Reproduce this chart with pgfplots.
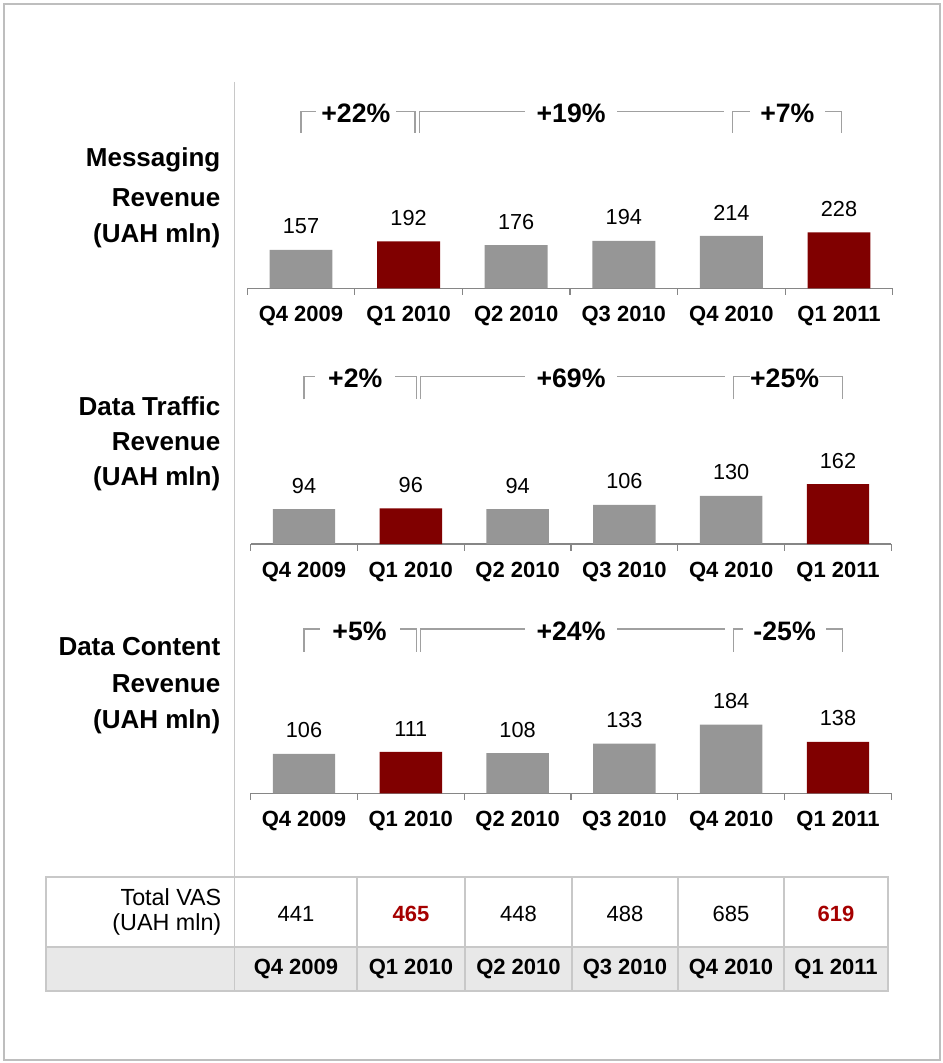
\documentclass[border=0pt]{standalone}
\usepackage{pgfplots}
\pgfplotsset{compat=1.18}
\usepackage{fontspec}
\setmainfont{Liberation Sans}
\definecolor{bargray}{RGB}{150,150,150}
\definecolor{barred}{RGB}{128,0,0}
\definecolor{txtred}{RGB}{165,0,0}
\definecolor{axisgray}{RGB}{134,134,134}
\definecolor{brkgray}{RGB}{160,160,160}
\definecolor{linegray}{RGB}{200,200,200}
\definecolor{framegray}{RGB}{190,190,190}
\definecolor{bandgray}{RGB}{232,232,232}

\newcommand{\valfont}{\fontsize{16.3}{19}\selectfont}
\newcommand{\tabfont}{\fontsize{16.5}{19}\selectfont}
\newcommand{\hdrfont}{\fontsize{17.5}{20}\selectfont}
\newcommand{\catfont}{\bfseries\fontsize{16.5}{19}\selectfont}
\newcommand{\brkfont}{\bfseries\fontsize{20}{23}\selectfont}
\newcommand{\ttlfont}{\bfseries\fontsize{19.5}{23}\selectfont}

\tikzset{
  brk/.style={draw=brkgray, line width=0.9pt},
  blab/.style={font=\brkfont, fill=white, inner sep=0pt, minimum height=20pt, yshift=-1.5pt},
  graybar/.style={draw=none, fill=bargray},
  redbar/.style={draw=none, fill=barred},
}
\pgfplotsset{
  panel/.style={
    scale only axis, anchor=south west,
    xmin=-0.5, xmax=5.5, ymin=0, ymax=200,
    axis y line=none, axis x line*=bottom,
    x axis line style={draw=axisgray, line width=1.2pt},
    xtick={0,...,5},
    xticklabels={Q4 2009,Q1 2010,Q2 2010,Q3 2010,Q4 2010,Q1 2011},
    major tick length=0pt,
    minor xtick={-0.5,0.5,1.5,2.5,3.5,4.5,5.5},
    minor tick length=5pt, tick align=outside,
    minor tick style={draw=axisgray, line width=1pt},
    xticklabel style={font=\catfont, anchor=center, yshift=-21pt},
    ybar, bar width=0.585, bar shift=0pt,
    clip=false,
    nodes near coords,
    every node near coord/.append style={font=\valfont, text=black, yshift=8.25pt},
    /pgf/number format/assume math mode=true,
  },
}

\begin{document}
\begin{tikzpicture}
\begin{scope}[x=0.75pt, y=-0.75pt]
  \path (0,0) rectangle (942,1063);
  \draw[framegray, line width=1.5pt] (3.5,4) rectangle (940,1059.5);
  % table
  \fill[bandgray] (46,947) rectangle (888,991);
  \draw[linegray, line width=0.8pt] (46,877) rectangle (888,991);
  \draw[linegray, line width=0.8pt] (46,947) -- (888,947);
  \draw[linegray, line width=0.8pt] (234.5,82) -- (234.5,991);
  \foreach \xx in {357,465,572,678,784} {
    \draw[linegray, line width=0.8pt] (\xx,877) -- (\xx,991);
  }
  % titles
  \node[anchor=east, font=\ttlfont] at (225,160) {Messaging};
  \node[anchor=east, font=\ttlfont] at (225,198) {Revenue};
  \node[anchor=east, font=\ttlfont] at (225,236) {(UAH mln)};
  \node[anchor=east, font=\ttlfont] at (225,406) {Data Traffic};
  \node[anchor=east, font=\ttlfont] at (225,442) {Revenue};
  \node[anchor=east, font=\ttlfont] at (225,479) {(UAH mln)};
  \node[anchor=east, font=\ttlfont] at (225,647) {Data Content};
  \node[anchor=east, font=\ttlfont] at (225,684) {Revenue};
  \node[anchor=east, font=\ttlfont] at (225,722) {(UAH mln)};
  % table text
  \node[anchor=east, font=\hdrfont] at (226,897) {Total VAS};
  \node[anchor=east, font=\hdrfont] at (226,924) {(UAH mln)};
  \node[font=\tabfont] at (296,914) {441};
  \node[font=\tabfont\bfseries, text=txtred] at (411,914) {465};
  \node[font=\tabfont] at (518.5,914) {448};
  \node[font=\tabfont] at (625,914) {488};
  \node[font=\tabfont] at (731,914) {685};
  \node[font=\tabfont\bfseries, text=txtred] at (836,914) {619};
  \node[font=\catfont] at (296,969) {Q4 2009};
  \node[font=\catfont] at (411,969) {Q1 2010};
  \node[font=\catfont] at (518.5,969) {Q2 2010};
  \node[font=\catfont] at (625,969) {Q3 2010};
  \node[font=\catfont] at (731,969) {Q4 2010};
  \node[font=\catfont] at (836,969) {Q1 2011};
\end{scope}

% Panel 1: Messaging
\begin{axis}[panel, at={(185.4pt,-216.225pt)}, width=484.2pt, height=36.75pt]
  \addplot[graybar] coordinates {(0,157) (2,176) (3,194) (4,214)};
  \addplot[redbar] coordinates {(1,192) (5,228)};
  \draw[brk] (axis cs:0,634) |- (axis cs:1.06,721) -- (axis cs:1.06,634);
  \draw[brk] (axis cs:1.10,634) |- (axis cs:3.93,721);
  \draw[brk] (axis cs:4.01,634) |- (axis cs:5.02,721) -- (axis cs:5.02,634);
  \node[blab, minimum width=60pt] at (axis cs:0.51,721) {+22\%};
  \node[blab, minimum width=69pt] at (axis cs:2.51,721) {+19\%};
  \node[blab, minimum width=56pt] at (axis cs:4.52,721) {+7\%};
\end{axis}

% Panel 2: Data Traffic
\begin{axis}[panel, at={(187.95pt,-408pt)}, width=480.6pt, height=55.5pt]
  \addplot[graybar] coordinates {(0,94) (2,94) (3,106) (4,130)};
  \addplot[redbar] coordinates {(1,96) (5,162)};
  \draw[brk] (axis cs:0,391) |- (axis cs:1.05,452) -- (axis cs:1.05,391);
  \draw[brk] (axis cs:1.09,391) |- (axis cs:3.94,452);
  \draw[brk] (axis cs:4.02,391) |- (axis cs:5.04,452) -- (axis cs:5.04,391);
  \node[blab, minimum width=60pt] at (axis cs:0.48,452) {+2\%};
  \node[blab, minimum width=69pt] at (axis cs:2.50,452) {+69\%};
  \node[blab, minimum width=52pt] at (axis cs:4.50,452) {+25\%};
\end{axis}

% Panel 3: Data Content
\begin{axis}[panel, at={(187.95pt,-594.975pt)}, width=480.6pt, height=55.95pt]
  \addplot[graybar] coordinates {(0,106) (2,108) (3,133) (4,184)};
  \addplot[redbar] coordinates {(1,111) (5,138)};
  \draw[brk] (axis cs:0,379.6) |- (axis cs:1.05,440.5) -- (axis cs:1.05,379.6);
  \draw[brk] (axis cs:1.09,379.6) |- (axis cs:3.94,440.5);
  \draw[brk] (axis cs:4.02,379.6) |- (axis cs:5.04,440.5) -- (axis cs:5.04,379.6);
  \node[blab, minimum width=60pt] at (axis cs:0.52,440.5) {+5\%};
  \node[blab, minimum width=69pt] at (axis cs:2.50,440.5) {+24\%};
  \node[blab, minimum width=62pt] at (axis cs:4.50,440.5) {-25\%};
\end{axis}
\end{tikzpicture}
\end{document}
